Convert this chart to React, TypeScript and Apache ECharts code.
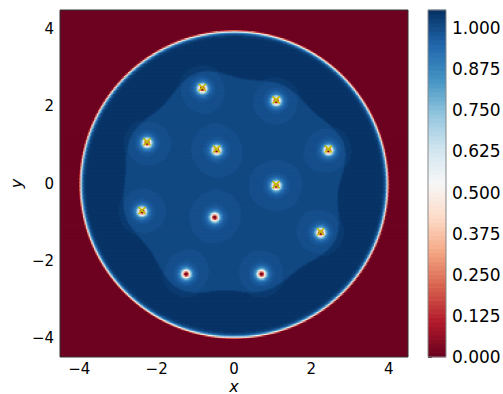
import React, { useEffect, useRef } from "react";
import * as echarts from "echarts";

// ---- data ----
const xTicks = [-4, -2, 0, 2, 4];
const yTicks = [-4, -2, 0, 2, 4];
const colorbarTicks = [0, 0.125, 0.25, 0.375, 0.5, 0.625, 0.75, 0.875, 1.0];
const vortexX = [-0.82, 1.09, -2.25, -0.45, 2.44, 1.09, -2.38, -0.5, 2.24, -1.24, 0.71];
const vortexY = [2.49, 2.17, 1.08, 0.89, 0.89, -0.03, -0.7, -0.85, -1.25, -2.32, -2.32];
const vortexMarked = [1, 1, 1, 1, 1, 1, 1, 0, 1, 0, 0];
const legendLabel = "Index=1";

// field parameters
const DOMAIN_MIN = -4.5;
const DOMAIN_MAX = 4.5;
const GRID_N = 256;
const VMAX = 1.055;
const N_LEVELS = 80;
const PEAK = 1.050;
const INNER_DROP = 0.038;
const CORE_XI = 0.085;
const HALO_XI = 0.046;
const EDGE_R = 4.02;
const EDGE_XI = 0.06;
const CLUSTER_SIGMA = 1.2;
const CLUSTER_THRESHOLD = 1.0;
const CLUSTER_WIDTH = 0.04;

const RDBU = ["#67001f", "#b2182b", "#d6604d", "#f4a582", "#fddbc7", "#f7f7f7", "#d1e5f0", "#92c5de", "#4393c3", "#2166ac", "#053061"];

function hexToRgb(h: string) {
  return [parseInt(h.slice(1, 3), 16), parseInt(h.slice(3, 5), 16), parseInt(h.slice(5, 7), 16)];
}
function rdbu(t: number) {
  const s = Math.min(Math.max(t, 0), 1) * 10;
  const i = Math.min(Math.floor(s), 9);
  const f = s - i;
  const a = hexToRgb(RDBU[i]);
  const b = hexToRgb(RDBU[i + 1]);
  const c = a.map((v, k) => Math.round(v + (b[k] - v) * f));
  return `rgb(${c[0]},${c[1]},${c[2]})`;
}

const levelStep = VMAX / N_LEVELS;
const bandColors: string[] = [];
for (let k = 0; k < N_LEVELS; k++) bandColors.push(rdbu((k + 0.5) / N_LEVELS));

function field(x: number, y: number) {
  const r = Math.hypot(x, y);
  if (r >= EDGE_R) return 0;
  const e = Math.tanh((EDGE_R - r) / EDGE_XI);
  let core = 1;
  let g = 0;
  for (let k = 0; k < vortexX.length; k++) {
    const dx = x - vortexX[k];
    const dy = y - vortexY[k];
    const d2 = dx * dx + dy * dy;
    const t = Math.tanh(Math.sqrt(d2) / CORE_XI);
    core *= t * t * (d2 / (d2 + HALO_XI * HALO_XI));
    g += Math.exp(-d2 / (CLUSTER_SIGMA * CLUSTER_SIGMA));
  }
  const step = Math.min(Math.max((g - CLUSTER_THRESHOLD) / CLUSTER_WIDTH + 0.5, 0), 1);
  return e * e * core * (PEAK - INNER_DROP * step);
}

function buildRuns() {
  const h = (DOMAIN_MAX - DOMAIN_MIN) / GRID_N;
  const runs: number[][] = [];
  for (let j = 0; j < GRID_N; j++) {
    const y0 = DOMAIN_MIN + j * h;
    const yc = y0 + h / 2;
    let start = 0;
    let prev = -1;
    for (let i = 0; i <= GRID_N; i++) {
      let band = -2;
      if (i < GRID_N) {
        const xc = DOMAIN_MIN + (i + 0.5) * h;
        const v = field(xc, yc);
        band = Math.min(N_LEVELS - 1, Math.max(0, Math.floor(v / levelStep)));
      }
      if (band !== prev) {
        if (prev >= 0) runs.push([DOMAIN_MIN + start * h, DOMAIN_MIN + i * h, y0, y0 + h, prev]);
        start = i;
        prev = band;
      }
    }
  }
  return runs;
}

export default function App() {
  const ref = useRef<HTMLDivElement>(null);
  useEffect(() => {
    if (!ref.current) return;
    const chart = echarts.init(ref.current, undefined, { renderer: "svg" });
    const runs = buildRuns();
    const markers = vortexX.map((x, i) => [x, vortexY[i]]).filter((_, i) => vortexMarked[i] === 1);
    const bands = bandColors.map((_, k) => [k * levelStep, (k + 1) * levelStep, k]);
    const font = "DejaVu Sans";
    const axisColor = "#333";
    const markerColor = "#bfbf00";
    const minus = (v: number) => String(v).replace("-", "\u2212");

    chart.setOption({
      animation: false,
      grid: [
        { left: 60, top: 10, width: 348, height: 347, outerBoundsMode: "none", containLabel: false },
        { left: 428, top: 10, width: 18, height: 347, outerBoundsMode: "none", containLabel: false },
      ],
      xAxis: [
        {
          gridIndex: 0, type: "value", min: DOMAIN_MIN, max: DOMAIN_MAX,
          name: "x", nameLocation: "middle", nameGap: 22, nameMoveOverlap: false,
          nameTextStyle: { fontFamily: font, fontStyle: "italic", fontSize: 16, lineHeight: 14, color: "#000" },
          axisLine: { show: false },
          axisTick: { show: true, length: 4, lineStyle: { color: axisColor }, customValues: xTicks },
          axisLabel: { fontFamily: font, fontSize: 15, lineHeight: 14, color: "#000", margin: 5, customValues: xTicks, formatter: minus },
          splitLine: { show: false },
        },
        { gridIndex: 1, type: "value", min: 0, max: 1, show: false },
      ],
      yAxis: [
        {
          gridIndex: 0, type: "value", min: DOMAIN_MIN, max: DOMAIN_MAX,
          name: "y", nameLocation: "middle", nameGap: 36, nameMoveOverlap: false,
          nameTextStyle: { fontFamily: font, fontStyle: "italic", fontSize: 16, color: "#000" },
          axisLine: { show: false },
          axisTick: { show: true, length: 4, lineStyle: { color: axisColor }, customValues: yTicks },
          axisLabel: { fontFamily: font, fontSize: 15, color: "#000", margin: 6, customValues: yTicks, formatter: minus },
          splitLine: { show: false },
        },
        {
          gridIndex: 1, type: "value", min: 0, max: VMAX, position: "right",
          axisLine: { show: false },
          axisTick: { show: true, length: 4, lineStyle: { color: axisColor }, customValues: colorbarTicks },
          axisLabel: { fontFamily: font, fontSize: 17, color: "#000", margin: 6, customValues: colorbarTicks, formatter: (v: number) => v.toFixed(3) },
          splitLine: { show: false },
        },
      ],
      series: [
        {
          type: "custom", xAxisIndex: 0, yAxisIndex: 0, data: runs, progressive: 0, silent: true, clip: true,
          encode: { x: [0, 1], y: [2, 3] },
          renderItem: (params: any, api: any) => {
            const p0 = api.coord([api.value(0), api.value(3)]);
            const p1 = api.coord([api.value(1), api.value(2)]);
            return {
              type: "rect",
              shape: { x: p0[0], y: p0[1], width: p1[0] - p0[0] + 1, height: p1[1] - p0[1] + 1 },
              style: { fill: bandColors[api.value(4)] },
            };
          },
        },
        {
          type: "custom", xAxisIndex: 0, yAxisIndex: 0, data: markers, silent: true, z: 5,
          renderItem: (params: any, api: any) => {
            const c = api.coord([api.value(0), api.value(1)]);
            const s = 3.5;
            return {
              type: "group",
              children: [
                { type: "line", shape: { x1: c[0] - s, y1: c[1] - s, x2: c[0] + s, y2: c[1] + s }, style: { stroke: markerColor, lineWidth: 1.6 } },
                { type: "line", shape: { x1: c[0] - s, y1: c[1] + s, x2: c[0] + s, y2: c[1] - s }, style: { stroke: markerColor, lineWidth: 1.6 } },
              ],
            };
          },
        },
        {
          type: "custom", xAxisIndex: 1, yAxisIndex: 1, data: bands, progressive: 0, silent: true,
          encode: { x: 2, y: [0, 1] },
          renderItem: (params: any, api: any) => {
            const p0 = api.coord([0, api.value(1)]);
            const p1 = api.coord([1, api.value(0)]);
            return {
              type: "rect",
              shape: { x: p0[0], y: p0[1] - 0.3, width: p1[0] - p0[0], height: p1[1] - p0[1] + 0.6 },
              style: { fill: bandColors[api.value(2)] },
            };
          },
        },
      ],
      graphic: [
        { type: "rect", z: 100, shape: { x: 60, y: 10, width: 348, height: 347 }, style: { fill: "none", stroke: axisColor, lineWidth: 1 } },
        { type: "rect", z: 100, shape: { x: 428, y: 10, width: 18, height: 347 }, style: { fill: "none", stroke: "#888", lineWidth: 1 } },
        {
          type: "group", z: 110, children: [
            { type: "rect", shape: { x: 318, y: 15, width: 85, height: 22, r: 3 }, style: { fill: "rgba(255,255,255,0.8)", stroke: "#cccccc", lineWidth: 1 } },
            { type: "line", shape: { x1: 322, y1: 26, x2: 344, y2: 26 }, style: { stroke: markerColor, lineWidth: 1.6 } },
            { type: "line", shape: { x1: 329, y1: 22, x2: 337, y2: 30 }, style: { stroke: markerColor, lineWidth: 1.6 } },
            { type: "line", shape: { x1: 329, y1: 30, x2: 337, y2: 22 }, style: { stroke: markerColor, lineWidth: 1.6 } },
            { type: "text", x: 352, y: 26, style: { text: legendLabel, fontFamily: font, fontSize: 11, fill: "#000", verticalAlign: "middle", align: "left" } },
          ],
        },
      ],
    });
    return () => chart.dispose();
  }, []);
  return <div ref={ref} style={{ width: 503, height: 394, position: "absolute", left: 0, top: 0 }} />;
}
